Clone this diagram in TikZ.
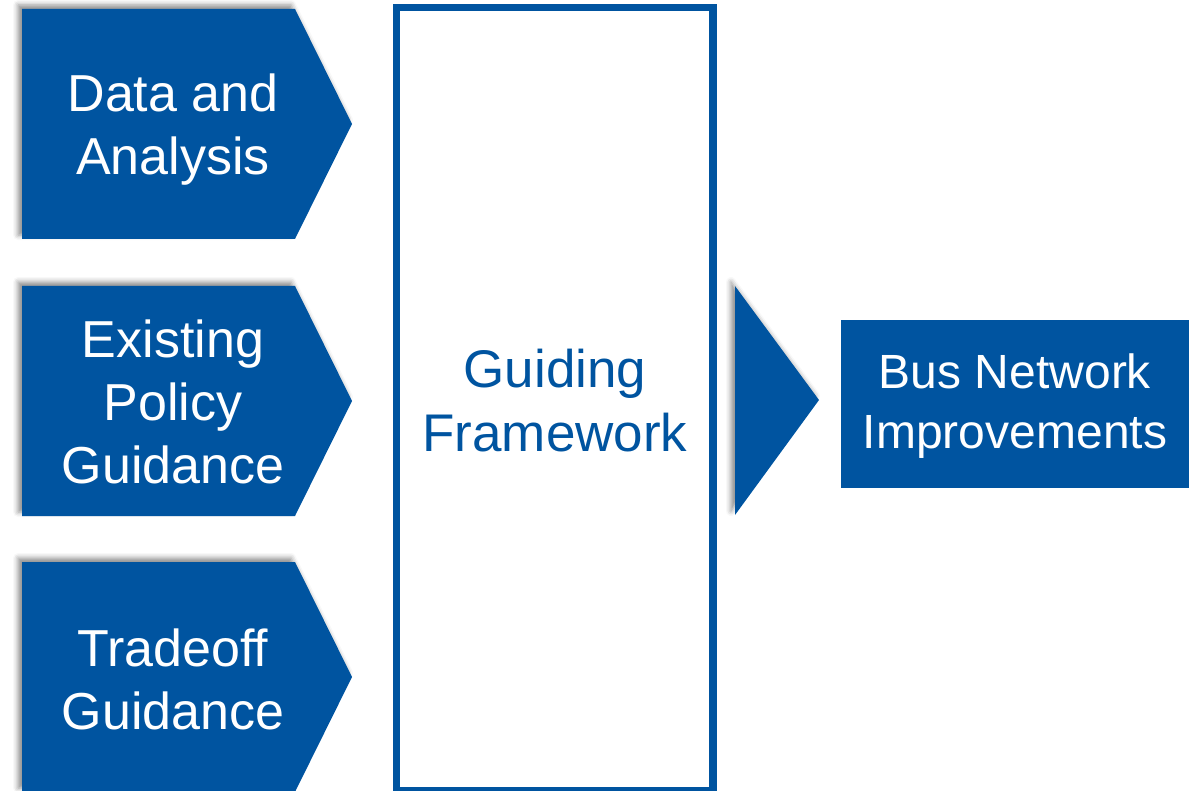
\documentclass[tikz,border=0pt]{standalone}
\usepackage{fontspec}
\setmainfont{Liberation Sans}
\usetikzlibrary{shadows.blur}
\definecolor{bblue}{RGB}{0,84,160}
\tikzset{
  chev/.style={fill=bblue, draw=none, blur shadow={shadow xshift=-4pt, shadow yshift=4pt, shadow blur radius=5pt, shadow opacity=45}},
  wtext/.style={text=white, align=center, inner sep=0pt, font=\fontsize{52}{63}\selectfont},
  btext/.style={text=bblue, align=center, inner sep=0pt, font=\fontsize{53}{64}\selectfont},
  rtext/.style={text=white, align=center, inner sep=0pt, font=\fontsize{48}{60}\selectfont},
}
\begin{document}
\begin{tikzpicture}[x=1pt, y=-1pt]
\useasboundingbox (0,0) rectangle (1199,791);
\begin{scope}
\clip (0,0) rectangle (1199,791);
% chevrons
\path[chev] (22,9) -- (295,9) -- (352,124) -- (295,239) -- (22,239) -- cycle;
\path[chev] (22,286) -- (295,286) -- (352,401) -- (295,516) -- (22,516) -- cycle;
\path[chev] (22,562) -- (295,562) -- (352,677) -- (295,792) -- (22,792) -- cycle;
% triangle
\path[chev] (735,286) -- (819,400) -- (735,515) -- cycle;
% middle frame
\draw[bblue, line width=7.5pt] (396.5,7.7) rectangle (713,790.5);
% result box
\node[fill=bblue, minimum width=348pt, minimum height=168pt, inner sep=0pt] (res) at (1015,404) {};
\end{scope}
\node[wtext] (t1) at (173,130) {Data and\\Analysis};
\node[wtext] (t2) at (173,402) {Existing\\Policy\\Guidance};
\node[wtext] (t3) at (173,679) {Tradeoff\\Guidance};
\node[btext] (gf) at (555,401) {Guiding\\Framework};
\node[rtext] (bn) at (1015,406) {Bus Network\\Improvements};
\end{tikzpicture}
\end{document}
